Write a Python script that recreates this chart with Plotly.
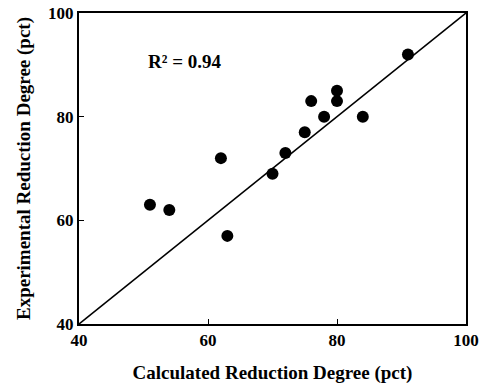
import plotly.graph_objects as go

calc = [51, 54, 62, 63, 70, 72, 75, 76, 78, 80, 80, 84, 91]
expt = [63, 62, 72, 57, 69, 73, 77, 83, 80, 85, 83, 80, 92]
line_x = [40, 100]
line_y = [40, 100]
ticks = [40, 60, 80, 100]
tick_labels = ["<b>%d</b>" % t for t in ticks]

fam = "Liberation Serif, Times New Roman, serif"

fig = go.Figure()
fig.add_trace(go.Scatter(x=line_x, y=line_y, mode="lines",
                         line=dict(color="black", width=1.6), showlegend=False))
fig.add_trace(go.Scatter(x=calc, y=expt, mode="markers",
                         marker=dict(color="black", size=12), showlegend=False))

fig.add_annotation(x=56.3, y=90.6, text="<b>R² = 0.94</b>", showarrow=False,
                   font=dict(size=19, family=fam, color="black"))

axis_common = dict(range=[40, 100], tickvals=ticks, ticktext=tick_labels,
                   showgrid=False, zeroline=False,
                   showline=True, linecolor="black", linewidth=2, mirror=True,
                   ticks="inside", ticklen=5, tickcolor="black", tickwidth=1,
                   automargin=False,
                   tickfont=dict(size=17, family=fam, color="black"))

fig.update_xaxes(**axis_common,
                 title=dict(text="<b>Calculated Reduction Degree (pct)</b>",
                            font=dict(size=19, family=fam, color="black"), standoff=22))
fig.update_yaxes(**axis_common,
                 title=dict(text="<b>Experimental Reduction Degree (pct)</b>",
                            font=dict(size=19, family=fam, color="black"), standoff=12))

fig.update_layout(width=484, height=384, margin=dict(l=79, r=18, t=13, b=60),
                  plot_bgcolor="white", paper_bgcolor="white")

fig.write_html("out.html")
